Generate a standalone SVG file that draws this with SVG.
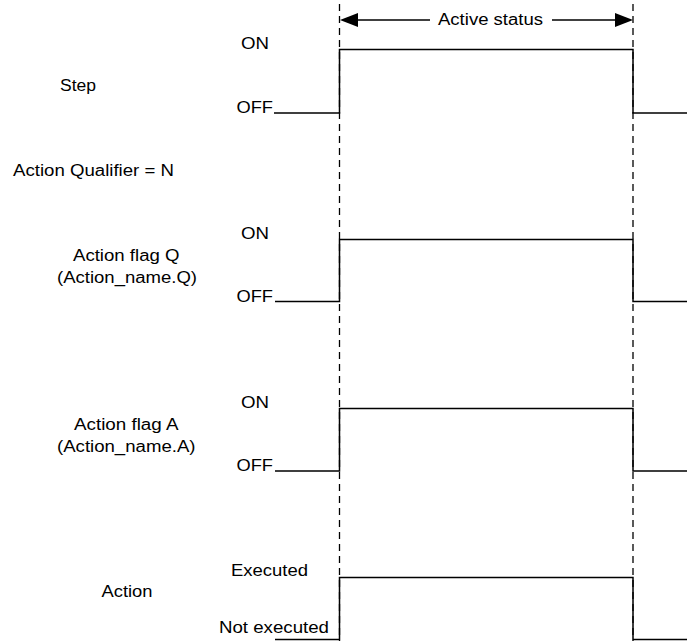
<svg xmlns="http://www.w3.org/2000/svg" width="687" height="641" viewBox="0 0 687 641">
<style>
text{font-family:"Liberation Sans",Arial,sans-serif;font-size:16px;fill:#000}
.dash{stroke:#000;stroke-width:1.3;stroke-dasharray:7 5;fill:none}
.wave{stroke:#000;stroke-width:1.5;fill:none}
.arr{stroke:#000;stroke-width:1.5;fill:none}
</style>
<rect width="687" height="641" fill="#fff"/>
<g id="connectors">
<line class="dash" x1="339.5" y1="4" x2="339.5" y2="641"/>
<line class="dash" x1="633" y1="4" x2="633" y2="641"/>
<line class="arr" x1="355" y1="20" x2="430" y2="20"/>
<line class="arr" x1="552" y1="20" x2="618" y2="20"/>
<polygon points="340,20 358,13 358,27" fill="#000"/>
<polygon points="633,20 615,13 615,27" fill="#000"/>
</g>
<g id="active-status"><text x="438" y="24.5" textLength="105" lengthAdjust="spacingAndGlyphs">Active status</text></g>
<g id="step">
<text x="60" y="91" textLength="36" lengthAdjust="spacingAndGlyphs">Step</text>
<text x="241" y="48.5" textLength="28" lengthAdjust="spacingAndGlyphs">ON</text>
<text x="236.5" y="113" textLength="36.5" lengthAdjust="spacingAndGlyphs">OFF</text>
<path class="wave" d="M274 113H339.5V49.5H633V113H687"/>
</g>
<g id="qualifier"><text x="13" y="176" textLength="161" lengthAdjust="spacingAndGlyphs">Action Qualifier = N</text></g>
<g id="flag-q">
<text x="73" y="261" textLength="106.5" lengthAdjust="spacingAndGlyphs">Action flag Q</text>
<text x="57" y="283" textLength="140" lengthAdjust="spacingAndGlyphs">(Action_name.Q)</text>
<text x="241" y="238.5" textLength="28" lengthAdjust="spacingAndGlyphs">ON</text>
<text x="236.5" y="301.5" textLength="36.5" lengthAdjust="spacingAndGlyphs">OFF</text>
<path class="wave" d="M275 301.5H339.5V239.5H633V301.5H687"/>
</g>
<g id="flag-a">
<text x="74" y="429.5" textLength="104.5" lengthAdjust="spacingAndGlyphs">Action flag A</text>
<text x="57" y="451.5" textLength="138.5" lengthAdjust="spacingAndGlyphs">(Action_name.A)</text>
<text x="241" y="407.5" textLength="28" lengthAdjust="spacingAndGlyphs">ON</text>
<text x="236.5" y="471" textLength="36.5" lengthAdjust="spacingAndGlyphs">OFF</text>
<path class="wave" d="M275 471H339.5V408.5H633V471H687"/>
</g>
<g id="action">
<text x="101.5" y="596.5" textLength="51" lengthAdjust="spacingAndGlyphs">Action</text>
<text x="231" y="576" textLength="77" lengthAdjust="spacingAndGlyphs">Executed</text>
<text x="219" y="633" textLength="110" lengthAdjust="spacingAndGlyphs">Not executed</text>
<path class="wave" d="M275 639.5H339.5V577.5H633V639.5H687"/>
</g>
</svg>
